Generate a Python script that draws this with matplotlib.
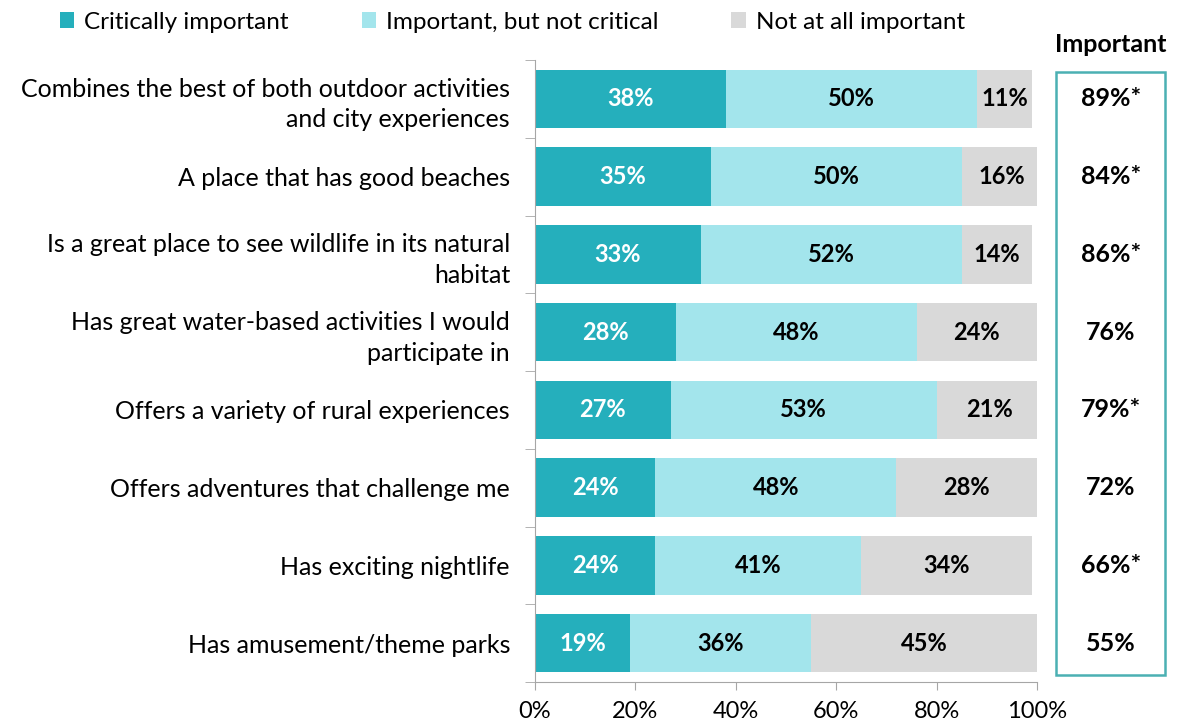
import numpy as np
import matplotlib.pyplot as plt
from matplotlib.patches import Rectangle

plt.rcParams['font.family'] = ['Lato', 'DejaVu Sans']

categories = [
    "Combines the best of both outdoor activities\nand city experiences",
    "A place that has good beaches",
    "Is a great place to see wildlife in its natural\nhabitat",
    "Has great water-based activities I would\nparticipate in",
    "Offers a variety of rural experiences",
    "Offers adventures that challenge me",
    "Has exciting nightlife",
    "Has amusement/theme parks",
]
critical = [38, 35, 33, 28, 27, 24, 24, 19]
not_critical = [50, 50, 52, 48, 53, 48, 41, 36]
not_important = [11, 16, 14, 24, 21, 28, 34, 45]
important_total = ["89%*", "84%*", "86%*", "76%", "79%*", "72%", "66%*", "55%"]

series_names = ["Critically important", "Important, but not critical", "Not at all important"]
colors = ["#25afbc", "#a3e5ec", "#d9d9d9"]
text_colors = ["white", "black", "black"]

fig = plt.figure(figsize=(11.78, 7.28), dpi=100)
ax = fig.add_axes([535 / 1178, 46 / 728, 502 / 1178, 622 / 728])

y = np.arange(len(categories))
left = np.zeros(len(categories))
for vals, col, tcol, name in zip([critical, not_critical, not_important], colors, text_colors, series_names):
    vals = np.array(vals, dtype=float)
    ax.barh(y, vals, left=left, height=0.75, color=col, label=name)
    for yi, l, v in zip(y, left, vals):
        ax.text(l + v / 2, yi, f"{int(v)}%", ha="center", va="center",
                color=tcol, fontsize=17, fontweight="bold")
    left += vals

ax.set_xlim(0, 100)
ax.set_ylim(len(categories) - 0.5, -0.5)
ax.set_xticks(np.arange(0, 101, 20))
ax.set_xticklabels([f"{t}%" for t in range(0, 101, 20)], fontsize=17)
ax.set_yticks(y)
ax.set_yticklabels(categories, fontsize=18, linespacing=1.4)
ax.set_yticks(np.arange(-0.5, len(categories), 1), minor=True)
ax.tick_params(axis="y", which="major", length=0, pad=18)
ax.tick_params(axis="y", which="minor", length=7, color="#a6a6a6")
ax.tick_params(axis="x", length=6, color="#a6a6a6", pad=8)
for lbl in ax.get_yticklabels():
    lbl.set_horizontalalignment("right")
for s in ["top", "right"]:
    ax.spines[s].set_visible(False)
for s in ["left", "bottom"]:
    ax.spines[s].set_color("#a6a6a6")

# right-hand column with overall "important" share
fig.patches.append(Rectangle((1056 / 1178, 1 - 675 / 728), 109 / 1178, 603 / 728,
                             transform=fig.transFigure, fill=False,
                             edgecolor="#4bb0b3", linewidth=1.8))
fig.text(1111 / 1178, 1 - 45 / 728, "Important", ha="center", va="center",
         fontsize=18, fontweight="bold")
for yi, txt in zip(y, important_total):
    disp = ax.transData.transform((0, yi))
    fy = fig.transFigure.inverted().transform(disp)[1]
    fig.text(1111 / 1178, fy, txt, ha="center", va="center", fontsize=18, fontweight="bold")

fig.legend(loc="upper left", bbox_to_anchor=(38 / 1178, 1.014), ncol=3, frameon=False,
           fontsize=17.5, handlelength=0.6, handleheight=0.6, handletextpad=0.4,
           columnspacing=3.0)

fig.savefig("out.png", dpi=100)
